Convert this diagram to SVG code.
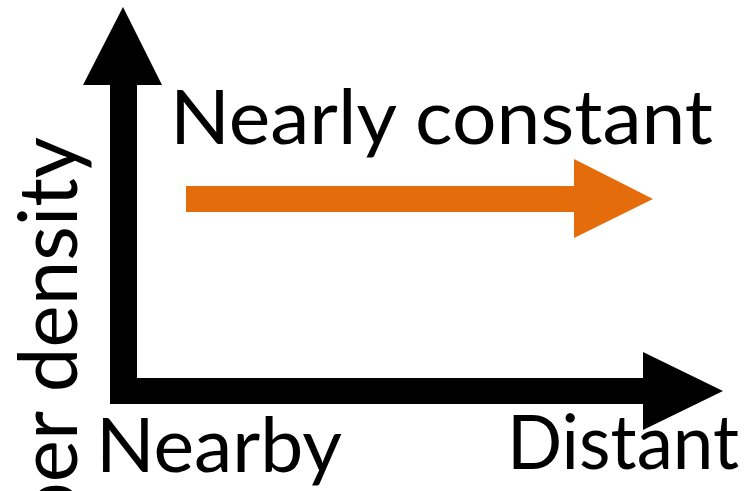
<svg xmlns="http://www.w3.org/2000/svg" width="751" height="491" viewBox="0 0 751 491">
<style>
.lbl{font-family:Lato,"Open Sans","Liberation Sans",sans-serif;fill:#000;}
</style>
<rect width="751" height="491" fill="#fff"/>
<g id="connectors">
<path id="axes" d="M110,404 L110,85 L83,85 L123,7 L162,85 L137,85 L137,378 L643,378 L643,352 L723,391 L643,430 L643,404 Z" fill="#000"/>
<path id="trend-arrow" d="M186,186 L574,186 L574,159 L653,199 L574,238 L574,212 L186,212 Z" fill="#E46C0A"/>
</g>
<g id="label-trend"><text class="lbl" x="170" y="144" font-size="75" textLength="543" lengthAdjust="spacingAndGlyphs">Nearly constant</text></g>
<g id="label-nearby"><text class="lbl" x="96" y="472" font-size="75" textLength="246" lengthAdjust="spacingAndGlyphs">Nearby</text></g>
<g id="label-distant"><text class="lbl" x="507" y="469" font-size="75" textLength="232" lengthAdjust="spacingAndGlyphs">Distant</text></g>
<g id="label-y"><text class="lbl" transform="translate(77,137) rotate(-90)" x="-390" y="0" font-size="81" textLength="390" lengthAdjust="spacingAndGlyphs">per density</text></g>
</svg>
